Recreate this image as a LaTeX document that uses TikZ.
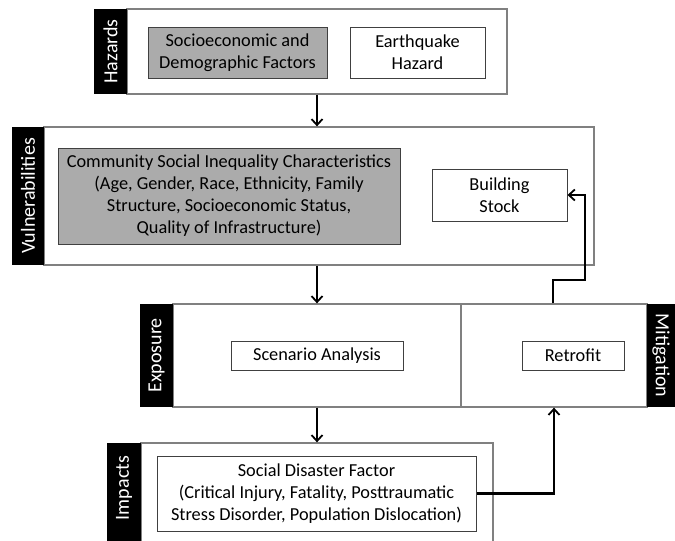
\documentclass[tikz,border=0pt]{standalone}
\usepackage{fontspec}
\setmainfont{Carlito}
\usetikzlibrary{arrows.meta}
\begin{document}
\begin{tikzpicture}[x=1pt,y=-1pt,
  font=\fontsize{18.3}{22}\selectfont,
  frame/.style={draw=black!50, line width=1.3pt, fill=white, inner sep=0pt},
  lab/.style={fill=black, inner sep=0pt},
  labtxt/.style={text=white, inner sep=0pt, font=\fontsize{20}{24}\selectfont},
  box/.style={draw=black!75, line width=1pt, fill=white, align=center, inner sep=0pt},
  gbox/.style={box, fill=black!33},
  flow/.style={line width=2.4pt, -{Straight Barb[length=6pt,width=11pt,line width=1.8pt]}}
]
\useasboundingbox (0,0) rectangle (675,541);
\clip (0,0) rectangle (675,541);
\fill[white] (0,0) rectangle (675,541);

% Hazards
\node[frame, minimum width=380pt, minimum height=85pt] (haz) at (317,51.5) {};
\node[lab, minimum width=33pt, minimum height=85pt] (hazl) at (110.5,51.5) {};
\node[labtxt, rotate=90] (hazt) at (hazl) {Hazards};
\node[gbox, minimum width=179pt, minimum height=51pt] (socio) at (237.5,52.5) {Socioeconomic and\\Demographic Factors};
\node[box, minimum width=135pt, minimum height=51pt] (eq) at (417.5,52.5) {Earthquake\\Hazard};

% Vulnerabilities
\node[frame, minimum width=550pt, minimum height=138pt] (vul) at (319,196) {};
\node[lab, minimum width=32pt, minimum height=138pt] (vull) at (28,196) {};
\node[labtxt, rotate=90] (vult) at (vull) {Vulnerabilities};
\node[gbox, minimum width=342pt, minimum height=96pt] (comm) at (229,196) {Community Social Inequality Characteristics\\(Age, Gender, Race, Ethnicity, Family\\Structure, Socioeconomic Status,\\Quality of Infrastructure)};
\node[box, minimum width=135pt, minimum height=52pt] (bld) at (499.5,195) {Building\\Stock};

% Exposure / Mitigation
\node[frame, minimum width=288pt, minimum height=103pt] (exp) at (317,355.5) {};
\node[lab, minimum width=33pt, minimum height=103pt] (expl) at (156.5,355.5) {};
\node[labtxt, rotate=90] (expt) at (expl) {Exposure};
\node[frame, minimum width=186pt, minimum height=103pt] (mit) at (554,355.5) {};
\node[lab, minimum width=28pt, minimum height=103pt] (mitl) at (661,355.5) {};
\node[labtxt, rotate=-90] (mitt) at (mitl) {Mitigation};
\node[box, minimum width=172pt, minimum height=29pt] (scen) at (317,355.5) {Scenario Analysis};
\node[box, minimum width=102pt, minimum height=29pt] (retro) at (573,355.5) {Retrofit};

% Impacts
\node[frame, minimum width=352pt, minimum height=113pt] (imp) at (317,499.5) {};
\node[lab, minimum width=34pt, minimum height=113pt] (impl) at (124,499.5) {};
\node[labtxt, rotate=90] (impt) at (124,488) {Impacts};
\node[box, minimum width=319pt, minimum height=75pt] (soc) at (316.5,493.5) {Social Disaster Factor\\(Critical Injury, Fatality, Posttraumatic\\Stress Disorder, Population Dislocation)};

% Connectors
\draw[flow] (haz.south) -- (haz.south |- vul.north);
\draw[flow] (vul.south -| exp.north) -- (exp.north);
\draw[flow] (exp.south) -- (exp.south |- imp.north);
\draw[flow] (soc.east) -| (mit.south);
\coordinate (c1) at (553,280);
\coordinate (c2) at (585,280);
\draw[flow] (mit.north -| c1) -- (c1) -- (c2) -- (c2 |- bld.east) -- (bld.east);
\end{tikzpicture}
\end{document}
